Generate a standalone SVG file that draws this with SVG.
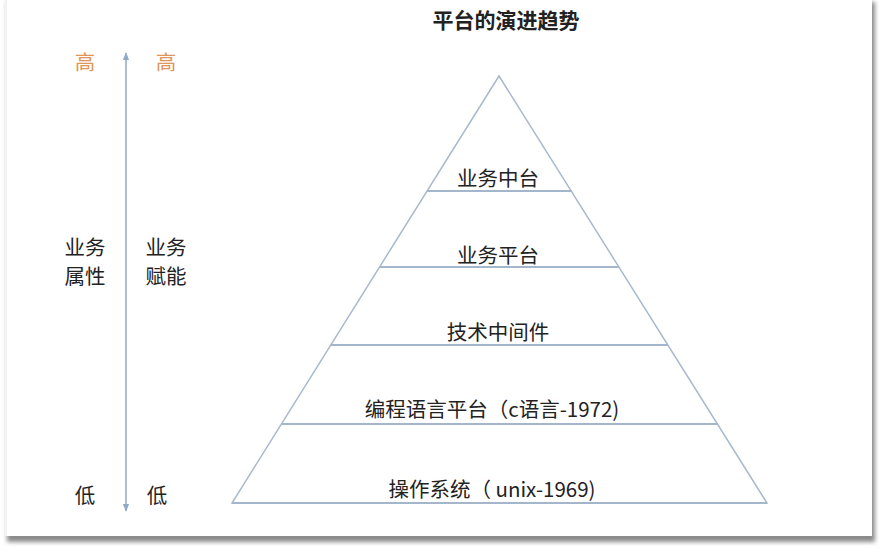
<svg xmlns="http://www.w3.org/2000/svg" width="881" height="552" viewBox="0 0 881 552">
<style>
text{font-family:"Noto Sans CJK SC","Noto Sans",sans-serif;font-size:20.5px;fill:#222;text-anchor:middle}
.t{font-size:21px;font-weight:bold;fill:#222}
.hi{fill:#e0955a}
.edge{stroke:#a9b9cd;stroke-width:1.5;fill:none}
.tier{stroke:#a4b6cb;stroke-width:2;fill:none}
.axis{stroke:#8fa9c8;stroke-width:1.5;fill:none}
</style>
<defs>
<filter id="sh" x="-5%" y="-5%" width="110%" height="115%">
<feGaussianBlur stdDeviation="2"/>
</filter>
<marker id="ah" viewBox="0 0 10 10" refX="9" refY="5" markerWidth="8" markerHeight="8" orient="auto-start-reverse" markerUnits="userSpaceOnUse">
<path d="M0,1 L10,5 L0,9 z" fill="#8fa9c8"/>
</marker>
</defs>
<rect width="881" height="552" fill="#ffffff"/>
<rect x="7" y="2" width="868" height="540" fill="#8a8a8a" filter="url(#sh)"/>
<rect x="5" y="0" width="867" height="536" fill="#ffffff"/>
<line x1="6" y1="0" x2="6" y2="536" stroke="#e6e6e6" stroke-width="1"/>
<text class="t" x="506" y="28">平台的演进趋势</text>
<g id="connectors">
<line class="axis" x1="126" y1="511" x2="126" y2="53" marker-start="url(#ah)" marker-end="url(#ah)"/>
</g>
<g id="pyramid">
<path class="edge" d="M499,76 L232,503 L767,503 Z"/>
<line class="tier" x1="427" y1="191" x2="572" y2="191"/>
<line class="tier" x1="380" y1="267" x2="619" y2="267"/>
<line class="tier" x1="331" y1="345" x2="668" y2="345"/>
<line class="tier" x1="282" y1="424" x2="718" y2="424"/>
<line class="tier" x1="232" y1="503" x2="767" y2="503"/>
</g>
<g id="n1"><text x="498" y="186">业务中台</text></g>
<g id="n2"><text x="498" y="263">业务平台</text></g>
<g id="n3"><text x="498" y="340">技术中间件</text></g>
<g id="n4"><text x="492" y="417">编程语言平台（c语言-1972)</text></g>
<g id="n5"><text x="492" y="497">操作系统（ unix-1969)</text></g>
<g id="left">
<text class="hi" x="85" y="70">高</text>
<text x="85" y="255">业务</text>
<text x="85" y="284">属性</text>
<text x="85" y="503">低</text>
</g>
<g id="right">
<text class="hi" x="166" y="70">高</text>
<text x="166" y="255">业务</text>
<text x="166" y="284">赋能</text>
<text x="157" y="503">低</text>
</g>
</svg>
